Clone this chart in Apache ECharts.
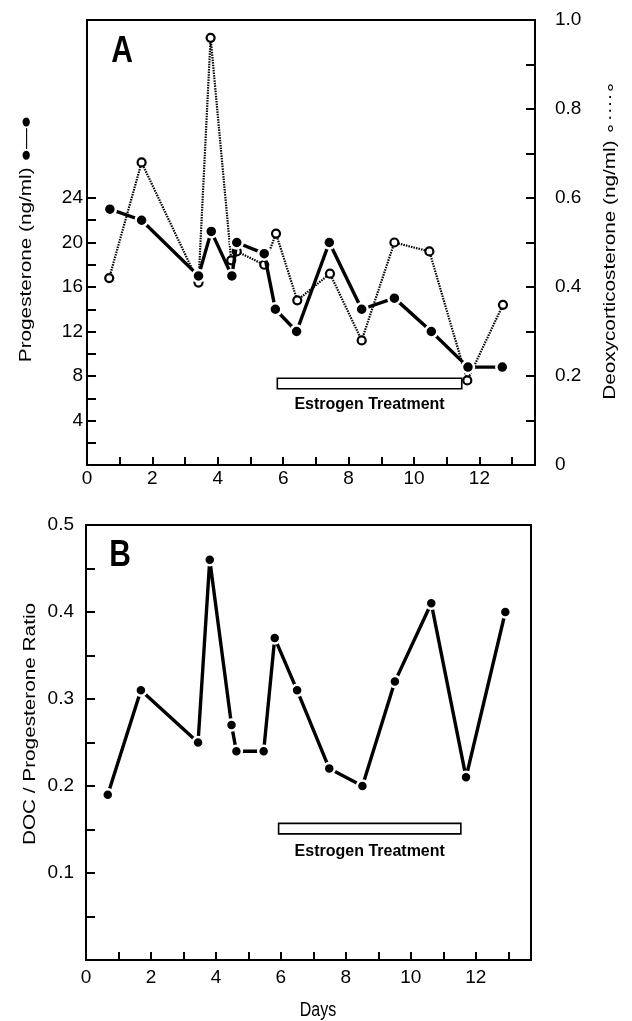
<!DOCTYPE html>
<html>
<head>
<meta charset="utf-8">
<script src="https://cdn.jsdelivr.net/npm/echarts/dist/echarts.min.js"></script>
<style>html,body{margin:0;padding:0;background:#fff}#c{width:632px;height:1021px}</style>
</head>
<body>
<div id="c"></div>
<script>
// ---- data ----
var progDays  = [0.70, 1.67, 3.41, 3.80, 4.43, 4.58, 5.42, 5.76, 6.41, 7.41, 8.40, 9.40, 10.53, 11.65, 12.70];
var progVals  = [23.0, 22.0, 17.0, 21.0, 17.0, 20.0, 19.0, 14.0, 12.0, 20.0, 14.0, 15.0, 12.0, 8.8, 8.8];
var docDays   = [0.68, 1.67, 3.41, 3.78, 4.41, 4.58, 5.42, 5.78, 6.43, 7.43, 8.40, 9.40, 10.47, 11.63, 12.72];
var docVals   = [0.42, 0.68, 0.41, 0.96, 0.46, 0.48, 0.45, 0.52, 0.37, 0.43, 0.28, 0.50, 0.48, 0.19, 0.36];
var ratioDays = [0.67, 1.69, 3.45, 3.81, 4.48, 4.63, 5.47, 5.81, 6.50, 7.49, 8.51, 9.51, 10.63, 11.70, 12.91];
var ratioVals = [0.19, 0.31, 0.25, 0.46, 0.27, 0.24, 0.24, 0.37, 0.31, 0.22, 0.20, 0.32, 0.41, 0.21, 0.40];
// estrogen treatment bars [startDay, endDay, low, high]
var estrogenA = [5.82, 11.46, 6.85, 7.8];
var estrogenB = [5.93, 11.54, 0.145, 0.157];
// tick labels / tick positions
var dayLabels   = [0, 2, 4, 6, 8, 10, 12];
var dayTicks    = [1, 2, 3, 4, 5, 6, 7, 8, 9, 10, 11, 12, 13];
var progLabels  = [4, 8, 12, 16, 20, 24];
var progTicks   = [2, 4, 6, 8, 10, 12, 14, 16, 18, 20, 22, 24];
var docLabels   = [0, 0.2, 0.4, 0.6, 0.8, 1.0];
var docTicks    = [0.1, 0.2, 0.3, 0.4, 0.5, 0.6, 0.7, 0.8, 0.9];
var ratioLabels = [0.1, 0.2, 0.3, 0.4, 0.5];
var ratioTicks  = [0.05, 0.1, 0.15, 0.2, 0.25, 0.3, 0.35, 0.4, 0.45];

function zip(a, b) { return a.map(function (v, i) { return [v, b[i]]; }); }

var FONT = 'Liberation Sans';
var axisLine = { show: true, lineStyle: { color: '#000', width: 2 } };
function ticks(vals, len) {
  return { show: true, inside: true, length: len || 8, customValues: vals, lineStyle: { color: '#000', width: 2 } };
}
function labels(vals, margin, fmt) {
  var o = { show: true, customValues: vals, margin: margin, color: '#000', fontFamily: FONT, fontSize: 19 };
  if (fmt) o.formatter = fmt;
  return o;
}
function decFmt(v) { return v === 0 ? '0' : v.toFixed(1); }

var chart = echarts.init(document.getElementById('c'), null, { renderer: 'canvas' });
chart.setOption({
  animation: false,
  backgroundColor: '#fff',
  grid: [
    { left: 87, right: 97, top: 20, height: 445, show: true, borderColor: '#000', borderWidth: 2, backgroundColor: 'transparent' },
    { left: 86, right: 101, top: 525, height: 435, show: true, borderColor: '#000', borderWidth: 2, backgroundColor: 'transparent' }
  ],
  xAxis: [
    { gridIndex: 0, type: 'value', min: 0, max: 13.7, axisLine: axisLine, axisTick: ticks(dayTicks, 8),
      axisLabel: labels(dayLabels, 4), splitLine: { show: false } },
    { gridIndex: 1, type: 'value', min: 0, max: 13.7, axisLine: axisLine, axisTick: ticks(dayTicks, 8),
      axisLabel: labels(dayLabels, 8), splitLine: { show: false } }
  ],
  yAxis: [
    { gridIndex: 0, type: 'value', position: 'left', min: 0, max: 40, axisLine: axisLine, axisTick: ticks(progTicks, 9),
      axisLabel: labels(progLabels, 4), splitLine: { show: false } },
    { gridIndex: 0, type: 'value', position: 'right', min: 0, max: 1, axisLine: axisLine, axisTick: ticks(docTicks, 9),
      axisLabel: labels(docLabels, 20, decFmt), splitLine: { show: false } },
    { gridIndex: 1, type: 'value', position: 'left', min: 0, max: 0.5, axisLine: axisLine, axisTick: ticks(ratioTicks, 9),
      axisLabel: labels(ratioLabels, 12, decFmt), splitLine: { show: false } }
  ],
  series: [
    { name: 'DOC', type: 'line', xAxisIndex: 0, yAxisIndex: 1, data: zip(docDays, docVals), z: 3,
      symbol: 'circle', symbolSize: 8,
      lineStyle: { color: '#000', width: 2.2, type: [1.5, 1.1] },
      itemStyle: { color: '#fff', borderColor: '#000', borderWidth: 2.2 } },
    { name: 'Progesterone', type: 'line', xAxisIndex: 0, yAxisIndex: 0, data: zip(progDays, progVals), z: 4,
      symbol: 'circle', symbolSize: 12,
      lineStyle: { color: '#000', width: 3.4 },
      itemStyle: { color: '#000', borderColor: '#fff', borderWidth: 2.5 },
      markArea: { silent: true,
        itemStyle: { color: '#fff', borderColor: '#000', borderWidth: 1.6 },
        label: { show: true, position: 'bottom', distance: 7, color: '#000', fontFamily: FONT, fontWeight: 'bold', fontSize: 16,
          formatter: 'Estrogen Treatment' },
        data: [[{ coord: [estrogenA[0], estrogenA[3]] }, { coord: [estrogenA[1], estrogenA[2]] }]] } },
    { name: 'Ratio', type: 'line', xAxisIndex: 1, yAxisIndex: 2, data: zip(ratioDays, ratioVals), z: 4,
      symbol: 'circle', symbolSize: 11,
      lineStyle: { color: '#000', width: 3.4 },
      itemStyle: { color: '#000', borderColor: '#fff', borderWidth: 2.5 },
      markArea: { silent: true,
        itemStyle: { color: '#fff', borderColor: '#000', borderWidth: 1.6 },
        label: { show: true, position: 'bottom', distance: 9, color: '#000', fontFamily: FONT, fontWeight: 'bold', fontSize: 16,
          formatter: 'Estrogen Treatment' },
        data: [[{ coord: [estrogenB[0], estrogenB[3]] }, { coord: [estrogenB[1], estrogenB[2]] }]] } }
  ],
  graphic: [
    { type: 'text', x: 122, y: 52, scaleY: 1.25, style: { text: 'A', font: 'bold 30px ' + FONT, fill: '#000', textAlign: 'center', textVerticalAlign: 'middle' } },
    { type: 'text', x: 120, y: 556, scaleY: 1.2, style: { text: 'B', font: 'bold 30px ' + FONT, fill: '#000', textAlign: 'center', textVerticalAlign: 'middle' } },
    { type: 'text', x: 26, y: 239, rotation: Math.PI / 2, scaleX: 1.22,
      style: { text: 'Progesterone (ng/ml) \u25CF\u2014\u25CF', font: '17px ' + FONT, fill: '#000', textAlign: 'center', textVerticalAlign: 'middle' } },
    { type: 'text', x: 610, y: 240, rotation: Math.PI / 2, scaleX: 1.22,
      style: { text: 'Deoxycorticosterone (ng/ml) \u2218\u00B7\u00B7\u00B7\u00B7\u2218', font: '17px ' + FONT, fill: '#000', textAlign: 'center', textVerticalAlign: 'middle' } },
    { type: 'text', x: 30, y: 724, rotation: Math.PI / 2, scaleX: 1.22,
      style: { text: 'DOC / Progesterone Ratio', font: '17px ' + FONT, fill: '#000', textAlign: 'center', textVerticalAlign: 'middle' } },
    { type: 'text', x: 318, y: 1010, scaleY: 1.25,
      style: { text: 'Days', font: '16px ' + FONT, fill: '#000', textAlign: 'center', textVerticalAlign: 'middle' } }
  ]
});
</script>
</body>
</html>
